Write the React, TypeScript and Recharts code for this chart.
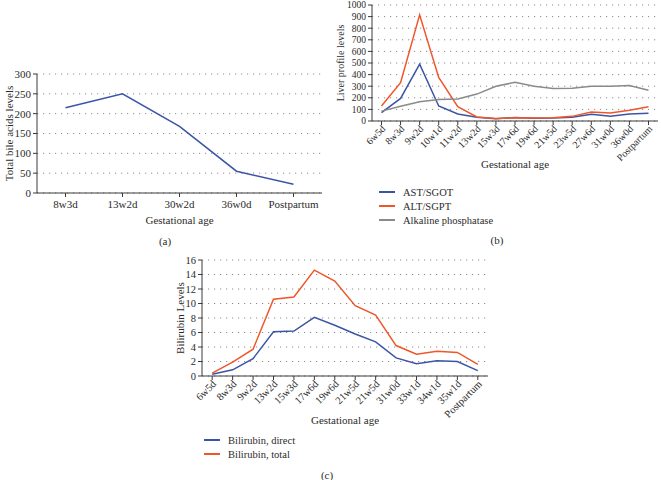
import { CartesianGrid, Line, LineChart, XAxis, YAxis } from "recharts";

const FONT = '"Liberation Serif", "Times New Roman", serif';
const AXIS = "#3a3a3a";
const GRID = "#8c8c8c";
const TEXT = "#2b2b2b";
const BLUE = "#3b55a6";
const RED = "#f0562a";
const GRAY = "#8a8a8a";

// (a) total bile acids
const BILE_CATEGORIES = ["8w3d", "13w2d", "30w2d", "36w0d", "Postpartum"];
const BILE_VALUES = [215, 250, 168, 55, 22];
const BILE_TICKS = [0, 50, 100, 150, 200, 250, 300];

// (b) liver profile
const LIVER_CATEGORIES = [
  "6w5d", "8w3d", "9w2d", "10w1d", "11w2d", "13w2d", "15w3d", "17w6d",
  "19w6d", "21w5d", "23w5d", "27w6d", "31w0d", "36w0d", "Postpartum",
];
const AST_VALUES = [72, 195, 490, 129, 60, 32, 20, 30, 23, 25, 33, 58, 42, 60, 66];
const ALT_VALUES = [130, 330, 915, 375, 123, 35, 22, 28, 25, 28, 40, 78, 70, 92, 123];
const ALP_VALUES = [85, 128, 165, 185, 190, 232, 300, 333, 300, 280, 283, 300, 300, 305, 265];
const LIVER_TICKS = [0, 100, 200, 300, 400, 500, 600, 700, 800, 900, 1000];

// (c) bilirubin ("21w5d" appears twice in the source figure)
const BILI_CATEGORIES = [
  "6w5d", "8w3d", "9w2d", "13w2d", "15w3d", "17w6d", "19w6d",
  "21w5d", "21w5d", "31w0d", "33w1d", "34w1d", "35w1d", "Postpartum",
];
const DIRECT_VALUES = [0.25, 0.85, 2.4, 6.1, 6.2, 8.1, 7.0, 5.8, 4.7, 2.5, 1.7, 2.1, 2.0, 0.75];
const TOTAL_VALUES = [0.4, 1.9, 3.7, 10.6, 10.9, 14.6, 13.1, 9.7, 8.4, 4.2, 3.0, 3.4, 3.25, 1.6];
const BILI_TICKS = [0, 2, 4, 6, 8, 10, 12, 14, 16];

const LIVER_SERIES = [
  { key: "ast", name: "AST/SGOT", color: BLUE },
  { key: "alt", name: "ALT/SGPT", color: RED },
  { key: "alp", name: "Alkaline phosphatase", color: GRAY },
];

const BILI_SERIES = [
  { key: "direct", name: "Bilirubin, direct", color: BLUE },
  { key: "total", name: "Bilirubin, total", color: RED },
];

const bileData = BILE_CATEGORIES.map((label, i) => ({ label, value: BILE_VALUES[i] }));
const liverData = LIVER_CATEGORIES.map((label, i) => ({
  label,
  ast: AST_VALUES[i],
  alt: ALT_VALUES[i],
  alp: ALP_VALUES[i],
}));
const biliData = BILI_CATEGORIES.map((label, i) => ({
  label,
  direct: DIRECT_VALUES[i],
  total: TOTAL_VALUES[i],
}));

type TickProps = {
  x?: number;
  y?: number;
  payload?: { value?: string };
  fontSize?: number;
};

function RotatedTick({ x = 0, y = 0, payload, fontSize = 10 }: TickProps) {
  return (
    <g transform={`translate(${x + 2},${y})`}>
      <text dy="0.35em" fill={TEXT} fontFamily={FONT} fontSize={fontSize} textAnchor="end" transform="rotate(-45)">
        {payload?.value}
      </text>
    </g>
  );
}

function LegendBox({ items, left, top }: { items: { key: string; name: string; color: string }[]; left: number; top: number }) {
  return (
    <div style={{ position: "absolute", left, top, fontFamily: FONT, fontSize: 10.5, color: TEXT }}>
      {items.map((item) => (
        <div key={item.key} style={{ display: "flex", alignItems: "center", height: 14 }}>
          <span style={{ display: "inline-block", width: 16, height: 1.5, background: item.color, marginRight: 8 }} />
          <span>{item.name}</span>
        </div>
      ))}
    </div>
  );
}

function Caption({ text, x, y }: { text: string; x: number; y: number }) {
  return (
    <div style={{ position: "absolute", left: x - 20, top: y - 7, width: 40, textAlign: "center", fontFamily: FONT, fontSize: 11, color: TEXT, lineHeight: "14px" }}>
      {text}
    </div>
  );
}

const tickStyle = (size: number) => ({ fill: TEXT, fontFamily: FONT, fontSize: size });
const labelStyle = (size: number) => ({ fill: TEXT, fontFamily: FONT, fontSize: size, textAnchor: "middle" as const });

export default function App() {
  return (
    <div style={{ position: "absolute", left: 0, top: 0, width: 661, height: 480, background: "#fff", overflow: "hidden", fontFamily: FONT }}>
      {/* (a) */}
      <div style={{ position: "absolute", left: 0, top: 60 }}>
        <LineChart width={330} height={175} data={bileData} margin={{ top: 14, right: 8, left: 0, bottom: 2 }}>
          <CartesianGrid horizontal vertical={false} stroke={GRID} strokeDasharray="1.2 4.8" />
          <XAxis
            dataKey="label"
            padding={{ left: 28.5, right: 28.5 }}
            height={40}
            interval={0}
            tickSize={4}
            tickMargin={3}
            stroke={AXIS}
            tick={tickStyle(11)}
            label={{ value: "Gestational age", position: "insideBottom", offset: 9, style: labelStyle(11) }}
          />
          <XAxis xAxisId="top" orientation="top" dataKey="label" height={0} tick={false} tickLine={false} stroke={AXIS} />
          <YAxis
            width={37}
            domain={[0, 300]}
            ticks={BILE_TICKS}
            interval={0}
            tickSize={4}
            tickMargin={2}
            stroke={AXIS}
            tick={tickStyle(11)}
            label={{ value: "Total bile acids levels", angle: -90, position: "insideLeft", offset: 9, style: labelStyle(11) }}
          />
          <YAxis yAxisId="right" orientation="right" width={0} domain={[0, 300]} tick={false} tickLine={false} stroke={AXIS} />
          <Line dataKey="value" type="linear" stroke={BLUE} strokeWidth={1.5} dot={false} isAnimationActive={false} />
        </LineChart>
      </div>
      <Caption text="(a)" x={165} y={241} />

      {/* (b) */}
      <div style={{ position: "absolute", left: 330, top: 0 }}>
        <LineChart width={331} height={172} data={liverData} margin={{ top: 5, right: 3, left: 0, bottom: 0 }}>
          <CartesianGrid horizontal vertical={false} stroke={GRID} strokeDasharray="1.2 4.8" />
          <XAxis
            dataKey="label"
            padding={{ left: 9.5, right: 9.5 }}
            height={51}
            interval={0}
            tickSize={4}
            tickMargin={2}
            stroke={AXIS}
            tick={<RotatedTick fontSize={10} />}
            label={{ value: "Gestational age", position: "insideBottom", offset: 4, style: labelStyle(11) }}
          />
          <XAxis xAxisId="top" orientation="top" dataKey="label" height={0} tick={false} tickLine={false} stroke={AXIS} />
          <YAxis
            width={42}
            domain={[0, 1000]}
            ticks={LIVER_TICKS}
            interval={0}
            tickSize={4}
            tickMargin={2}
            stroke={AXIS}
            tick={tickStyle(9.5)}
            label={{ value: "Liver profile levels", angle: -90, position: "insideLeft", offset: 10, style: labelStyle(10) }}
          />
          <YAxis yAxisId="right" orientation="right" width={0} domain={[0, 1000]} tick={false} tickLine={false} stroke={AXIS} />
          {LIVER_SERIES.map((s) => (
            <Line key={s.key} dataKey={s.key} name={s.name} type="linear" stroke={s.color} strokeWidth={1.5} dot={false} isAnimationActive={false} />
          ))}
        </LineChart>
      </div>
      <LegendBox items={LIVER_SERIES} left={379} top={185} />
      <Caption text="(b)" x={497} y={240} />

      {/* (c) */}
      <div style={{ position: "absolute", left: 150, top: 250 }}>
        <LineChart width={345} height={176} data={biliData} margin={{ top: 10, right: 7, left: 0, bottom: 0 }}>
          <CartesianGrid horizontal vertical={false} stroke={GRID} strokeDasharray="1.2 4.8" />
          <XAxis
            dataKey="label"
            padding={{ left: 10.2, right: 10.2 }}
            height={50}
            interval={0}
            tickSize={4}
            tickMargin={2}
            stroke={AXIS}
            tick={<RotatedTick fontSize={10.5} />}
            label={{ value: "Gestational age", position: "insideBottom", offset: 2, style: labelStyle(11) }}
          />
          <XAxis xAxisId="top" orientation="top" dataKey="label" height={0} tick={false} tickLine={false} stroke={AXIS} />
          <YAxis
            width={52}
            domain={[0, 16]}
            ticks={BILI_TICKS}
            interval={0}
            tickSize={4}
            tickMargin={2}
            stroke={AXIS}
            tick={tickStyle(10.5)}
            label={{ value: "Bilirubin Levels", angle: -90, position: "insideLeft", offset: 30, style: labelStyle(11) }}
          />
          <YAxis yAxisId="right" orientation="right" width={0} domain={[0, 16]} tick={false} tickLine={false} stroke={AXIS} />
          {BILI_SERIES.map((s) => (
            <Line key={s.key} dataKey={s.key} name={s.name} type="linear" stroke={s.color} strokeWidth={1.5} dot={false} isAnimationActive={false} />
          ))}
        </LineChart>
      </div>
      <LegendBox items={BILI_SERIES} left={204} top={433} />
      <Caption text="(c)" x={327} y={475} />
    </div>
  );
}
